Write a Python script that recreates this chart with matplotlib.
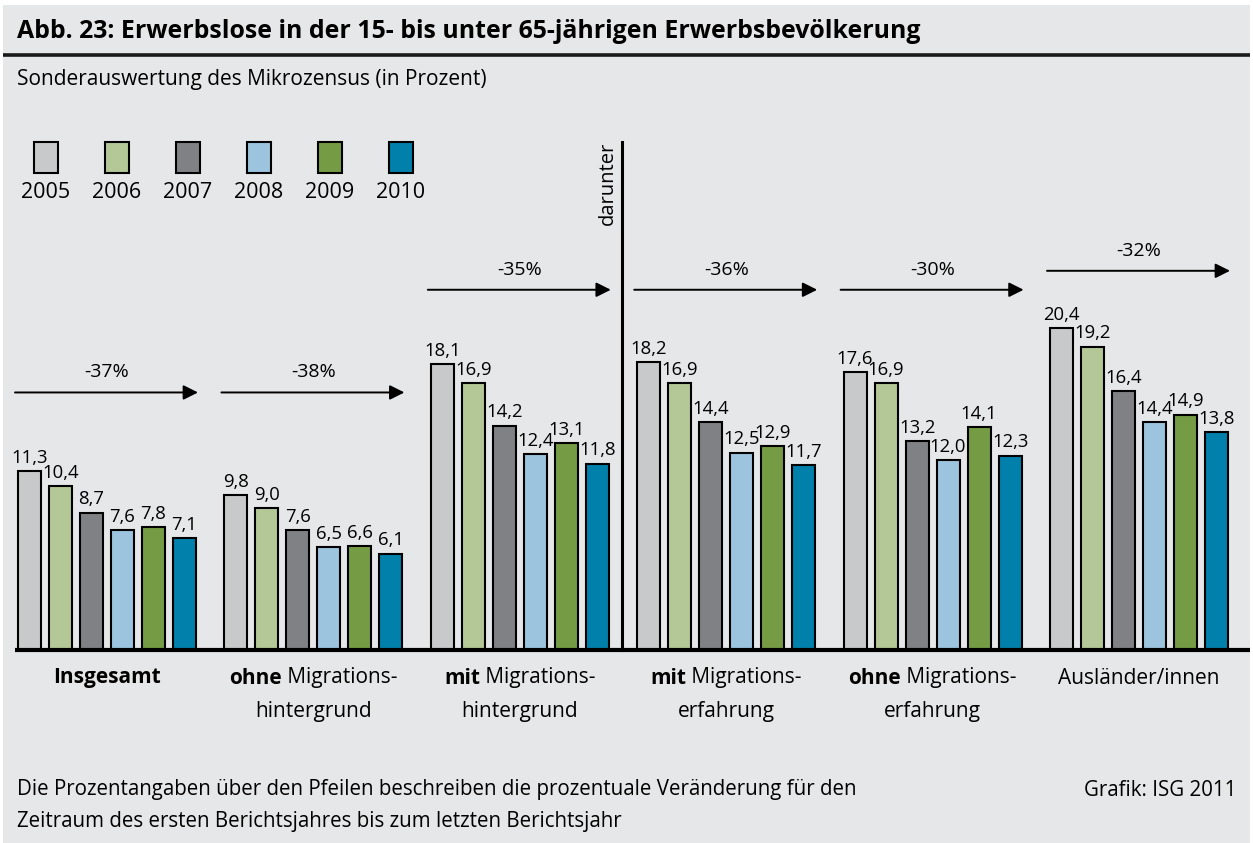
import matplotlib
matplotlib.use("Agg")
import matplotlib.pyplot as plt
from matplotlib.patches import Rectangle

# Data (Prozent)
years = ["2005", "2006", "2007", "2008", "2009", "2010"]
insgesamt = [11.3, 10.4, 8.7, 7.6, 7.8, 7.1]
ohne_mh = [9.8, 9.0, 7.6, 6.5, 6.6, 6.1]
mit_mh = [18.1, 16.9, 14.2, 12.4, 13.1, 11.8]
mit_me = [18.2, 16.9, 14.4, 12.5, 12.9, 11.7]
ohne_me = [17.6, 16.9, 13.2, 12.0, 14.1, 12.3]
auslaender = [20.4, 19.2, 16.4, 14.4, 14.9, 13.8]
changes = ["-37%", "-38%", "-35%", "-36%", "-30%", "-32%"]

label_bold = ["Insgesamt", "ohne", "mit", "mit", "ohne", ""]
label_line1 = ["", "Migrations-", "Migrations-", "Migrations-", "Migrations-", "Ausländer/innen"]
label_line2 = ["", "hintergrund", "hintergrund", "erfahrung", "erfahrung", ""]

groups = [insgesamt, ohne_mh, mit_mh, mit_me, ohne_me, auslaender]

# Styles / layout (pixels)
colors = ["#c8c9cb", "#b3c896", "#808185", "#9cc4de", "#769b45", "#0080aa"]
BG = "#e6e7e9"
W, H = 1253, 843
BASE = 650          # baseline pixel row
SCALE = 15.8        # pixels per percent
GROUP_X0 = 18       # left edge of first bar
GROUP_STEP = 206.4
BAR_STEP = 31
BAR_W = 23
arrow_y = [16.3, 16.3, 22.8, 22.8, 22.8, 24.0]
FONT = ["Open Sans", "DejaVu Sans"]

plt.rcParams["font.family"] = FONT

fig = plt.figure(figsize=(W / 100, H / 100), dpi=100)
fig.patch.set_facecolor("white")

# Layout layer in pixel coordinates (y downward)
lay = fig.add_axes([0, 0, 1, 1])
lay.set_xlim(0, W)
lay.set_ylim(H, 0)
lay.axis("off")
lay.add_patch(Rectangle((3, 5), W - 6, H - 5, facecolor=BG, edgecolor="none", zorder=0))

# Title and subtitle
lay.text(17, 32, "Abb. 23: Erwerbslose in der 15- bis unter 65-jährigen Erwerbsbevölkerung",
         fontsize=17.9, fontweight="bold", va="center", ha="left")
lay.plot([3, W - 3], [54.5, 54.5], color="#1a1a1a", lw=2.6, solid_capstyle="butt")
lay.text(17, 80, "Sonderauswertung des Mikrozensus (in Prozent)", fontsize=15, va="center")

# Legend
for i, (yr, c) in enumerate(zip(years, colors)):
    cx = 45.5 + 71 * i
    lay.add_patch(Rectangle((cx - 12, 142), 24, 31, facecolor=c, edgecolor="black", lw=1.5, zorder=3))
    lay.text(cx, 192, yr, fontsize=15.5, ha="center", va="center")

# Footer
lay.text(17, 790, "Die Prozentangaben über den Pfeilen beschreiben die prozentuale Veränderung für den",
         fontsize=14.8, va="center")
lay.text(17, 822, "Zeitraum des ersten Berichtsjahres bis zum letzten Berichtsjahr",
         fontsize=14.8, va="center")
lay.text(1236, 790, "Grafik: ISG 2011", fontsize=14.8, va="center", ha="right")

# Bar layer: x in pixels, y in percent
ax = fig.add_axes([0, 0, 1, 1])
ax.patch.set_alpha(0)
ax.set_xlim(0, W)
ax.set_ylim(-(H - BASE) / SCALE, BASE / SCALE)
ax.axis("off")

for g, vals in enumerate(groups):
    x0 = GROUP_X0 + g * GROUP_STEP
    xs = [x0 + i * BAR_STEP + BAR_W / 2 for i in range(len(vals))]
    ax.bar(xs, vals, width=BAR_W, color=colors, edgecolor="black", linewidth=1.5, zorder=2)
    for x, v in zip(xs, vals):
        ax.annotate(f"{v:.1f}".replace(".", ","), (x, v), xytext=(0, 3),
                    textcoords="offset points", ha="center", va="bottom", fontsize=13.3)
    # arrow with percentage change
    ay = arrow_y[g]
    ax.annotate("", xy=(x0 + 180, ay), xytext=(x0 - 3, ay),
                arrowprops=dict(arrowstyle="-|>", color="black", lw=1.4,
                                mutation_scale=22, shrinkA=0, shrinkB=0))
    ax.annotate(changes[g], (x0 + 89, ay), xytext=(0, 14.5), textcoords="offset points",
                ha="center", va="center", fontsize=14)

# Baseline
ax.plot([15, 1250], [0, 0], color="black", lw=3, solid_capstyle="butt", zorder=3)

# Divider "darunter"
lay.plot([622, 622], [142, BASE], color="black", lw=2.2, zorder=3)
lay.text(608, 142, "darunter", rotation=90, fontsize=14.5, ha="center", va="top")

# Category labels (bold part + regular part, centred per group)
fig.canvas.draw()
r = fig.canvas.get_renderer()
for g in range(len(groups)):
    cx = GROUP_X0 + g * GROUP_STEP + 89
    tb = lay.text(0, 678, label_bold[g], fontsize=15, fontweight="bold", va="center", ha="left")
    sep = " " if label_bold[g] and label_line1[g] else ""
    tr = lay.text(0, 678, sep + label_line1[g], fontsize=15, va="center", ha="left")
    wb = tb.get_window_extent(r).width if label_bold[g] else 0
    wr = tr.get_window_extent(r).width if label_line1[g] else 0
    start = cx - (wb + wr) / 2
    tb.set_x(start)
    tr.set_x(start + wb)
    if label_line2[g]:
        lay.text(cx, 712, label_line2[g], fontsize=15, va="center", ha="center")

fig.savefig("out.png", dpi=100, facecolor=fig.get_facecolor())
